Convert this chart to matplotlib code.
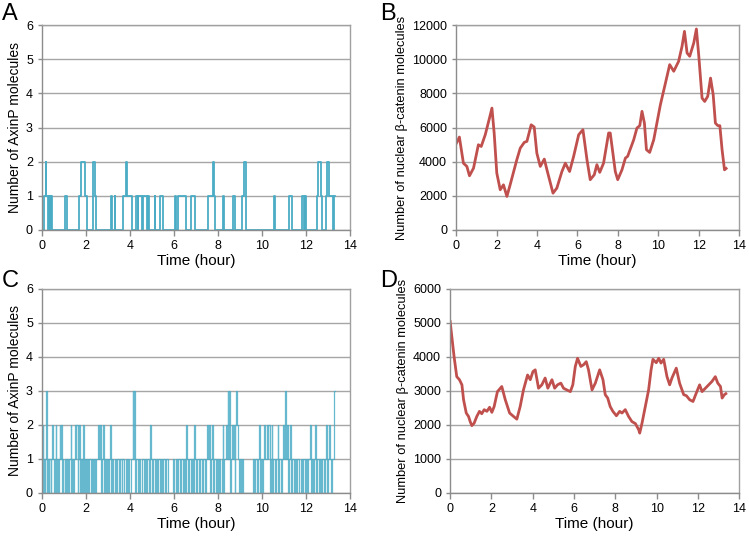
import numpy as np
import matplotlib
matplotlib.use("Agg")
import matplotlib.pyplot as plt

plt.rcParams['font.family'] = ['Liberation Sans', 'DejaVu Sans']

# ---- panel A: AxinP counts (step data, time in hours / level after switch)
a_t = [0.00, 0.10, 0.17, 0.20, 0.27, 0.30, 0.33, 0.36, 0.40, 0.43, 0.48,
       1.05, 1.12, 1.68, 1.76, 1.95, 2.06, 2.30, 2.40, 2.48,
       3.14, 3.18, 3.30, 3.34, 3.70, 3.84, 3.88, 4.08,
       4.27, 4.35, 4.38, 4.55, 4.60, 4.76, 4.83, 4.87, 5.12, 5.16, 5.36, 5.50,
       6.05, 6.09, 6.20, 6.57, 6.80, 6.97,
       7.56, 7.78, 7.82, 7.86, 8.24, 8.30, 8.70, 8.80, 9.10, 9.20, 9.28,
       10.55, 10.59, 11.24, 11.35, 11.83, 11.92, 11.96, 12.03,
       12.50, 12.56, 12.67, 12.72, 12.90, 12.98, 13.04, 13.24, 13.28, 13.32]
a_n = [0, 1, 2, 1, 0, 1, 0, 1, 0, 1, 0,
       1, 0, 1, 2, 1, 0, 2, 1, 0,
       1, 0, 1, 0, 1, 2, 1, 0,
       1, 0, 1, 0, 1, 0, 1, 0, 1, 0, 1, 0,
       1, 0, 1, 0, 1, 0,
       1, 2, 1, 0, 1, 0, 1, 0, 1, 2, 0,
       1, 0, 1, 0, 1, 0, 1, 0,
       1, 2, 1, 0, 1, 2, 1, 0, 1, 1]

# ---- panel C: AxinP counts (denser)
c_t = [0.00, 0.03, 0.06, 0.08, 0.12, 0.15, 0.19, 0.22, 0.25, 0.28, 0.31, 0.34, 0.40, 0.43,
       0.47, 0.52, 0.55, 0.58, 0.62, 0.65, 0.69, 0.73, 0.77, 0.80, 0.83, 0.86, 0.90, 0.94,
       0.98, 1.05, 1.08, 1.14, 1.20, 1.24, 1.30, 1.33, 1.37, 1.42, 1.45, 1.50, 1.53, 1.57,
       1.62, 1.66, 1.70, 1.75, 1.79, 1.83, 1.87, 1.90, 1.95, 2.00, 2.06, 2.10, 2.15, 2.22,
       2.27, 2.31, 2.36, 2.42, 2.47, 2.55, 2.60, 2.65, 2.70, 2.73, 2.78, 2.82, 2.86, 2.92,
       2.96, 3.02, 3.05, 3.10, 3.13, 3.18, 3.23, 3.30, 3.37, 3.42, 3.50, 3.55, 3.62, 3.66,
       3.75, 3.80, 3.86, 3.92, 3.97, 4.05, 4.12, 4.16, 4.20, 4.24, 4.28, 4.35, 4.42, 4.48,
       4.55, 4.62, 4.67, 4.73, 4.78, 4.85, 4.90, 4.95, 5.00, 5.05, 5.12, 5.18, 5.24, 5.30,
       5.36, 5.40, 5.47, 5.52, 5.58, 5.65, 5.72, 5.95, 6.00, 6.08, 6.15, 6.20, 6.28, 6.33,
       6.40, 6.45, 6.52, 6.57, 6.60, 6.65, 6.70, 6.78, 6.82, 6.88, 6.93, 6.97, 7.02, 7.07,
       7.14, 7.20, 7.28, 7.33, 7.40, 7.45, 7.52, 7.56, 7.62, 7.66, 7.70, 7.75, 7.78, 7.83,
       7.90, 7.95, 8.02, 8.06, 8.12, 8.17, 8.22, 8.25, 8.30, 8.36, 8.40, 8.45, 8.48, 8.52,
       8.55, 8.58, 8.63, 8.67, 8.72, 8.76, 8.80, 8.84, 8.88, 8.92, 8.96, 9.00, 9.05, 9.10,
       9.16, 9.60, 9.66, 9.70, 9.78, 9.82, 9.88, 9.91, 9.95, 10.02, 10.06, 10.12, 10.16, 10.22,
       10.26, 10.30, 10.35, 10.40, 10.45, 10.48, 10.52, 10.60, 10.65, 10.72, 10.75, 10.80, 10.86, 10.90,
       10.96, 11.00, 11.05, 11.10, 11.15, 11.20, 11.25, 11.30, 11.34, 11.38, 11.45, 11.50, 11.57, 11.62,
       11.70, 11.76, 11.82, 11.88, 11.95, 12.00, 12.06, 12.12, 12.18, 12.22, 12.26, 12.32, 12.37, 12.44,
       12.48, 12.52, 12.58, 12.64, 12.70, 12.75, 12.82, 12.86, 12.92, 12.96, 13.00, 13.05, 13.10, 13.15,
       13.20, 13.28, 13.32]
c_n = [1, 2, 0, 1, 0, 1, 3, 1, 0, 1, 0, 1, 0, 1,
       2, 1, 0, 1, 2, 0, 1, 0, 1, 2, 1, 2, 0, 1,
       0, 1, 0, 1, 0, 1, 2, 0, 1, 0, 1, 2, 1, 2,
       0, 1, 2, 0, 1, 0, 2, 0, 1, 0, 1, 0, 1, 0,
       1, 0, 1, 0, 1, 2, 1, 2, 0, 1, 2, 0, 1, 0,
       1, 0, 1, 2, 0, 1, 0, 1, 0, 1, 0, 1, 0, 1,
       0, 1, 0, 1, 0, 1, 3, 1, 3, 0, 1, 0, 1, 0,
       1, 0, 1, 0, 1, 0, 2, 1, 0, 1, 0, 1, 0, 1,
       0, 1, 0, 1, 0, 1, 0, 1, 0, 1, 0, 1, 0, 1,
       0, 1, 0, 2, 1, 0, 1, 0, 1, 0, 2, 1, 0, 1,
       0, 1, 0, 1, 0, 1, 2, 1, 2, 0, 1, 2, 0, 1,
       0, 1, 0, 1, 0, 1, 2, 0, 1, 2, 1, 3, 1, 3,
       0, 1, 2, 1, 2, 0, 2, 3, 2, 1, 0, 1, 0, 1,
       0, 1, 0, 1, 0, 1, 2, 0, 1, 0, 1, 2, 1, 2,
       1, 2, 0, 1, 2, 0, 1, 0, 1, 2, 0, 1, 0, 1,
       2, 1, 3, 1, 2, 0, 1, 2, 0, 1, 0, 1, 0, 1,
       0, 1, 0, 1, 0, 1, 0, 1, 2, 0, 1, 0, 1, 2,
       0, 1, 0, 1, 0, 1, 0, 1, 2, 0, 1, 2, 1, 0,
       1, 3, 3]

# ---- panel B: nuclear beta-catenin
b_t = [0.00, 0.16, 0.36, 0.53, 0.66, 0.86, 1.10, 1.24, 1.44, 1.65, 1.77, 1.88, 2.01, 2.18,
       2.34, 2.51, 2.67, 3.00, 3.17, 3.37, 3.50, 3.71, 3.86, 3.99, 4.16, 4.36, 4.49, 4.79,
       4.98, 5.23, 5.40, 5.61, 5.81, 6.06, 6.27, 6.47, 6.63, 6.83, 6.96, 7.10, 7.29, 7.54,
       7.62, 7.87, 7.99, 8.20, 8.37, 8.48, 8.78, 8.94, 9.08, 9.19, 9.31, 9.41, 9.57, 9.77,
       10.10, 10.35, 10.56, 10.76, 11.00, 11.17, 11.29, 11.42, 11.55, 11.75, 11.88, 12.00, 12.16, 12.29,
       12.44, 12.58, 12.71, 12.82, 12.94, 13.04, 13.15, 13.27, 13.35]
b_v = [5050, 5440, 3910, 3720, 3170, 3620, 4990, 4890, 5580, 6560, 7140, 5680, 3330, 2350,
       2640, 1960, 2640, 4110, 4790, 5130, 5190, 6160, 6030, 4500, 3720, 4150, 3520, 2150,
       2450, 3420, 3910, 3420, 4310, 5580, 5870, 4110, 2940, 3230, 3820, 3370, 3910, 5680,
       5680, 3420, 2940, 3520, 4210, 4310, 5280, 5970, 6110, 6950, 6260, 4700, 4540, 5280,
       7340, 8610, 9690, 9300, 9880, 10760, 11640, 10370, 10180, 10960, 11780, 10180, 7730, 7530,
       7830, 8900, 7930, 6260, 6110, 6110, 4700, 3520, 3600]

# ---- panel D: nuclear beta-catenin
d_t = [0.00, 0.08, 0.19, 0.32, 0.45, 0.57, 0.65, 0.78, 0.89, 0.97, 1.05, 1.16, 1.29, 1.42,
       1.53, 1.65, 1.78, 1.91, 2.02, 2.13, 2.29, 2.50, 2.67, 2.88, 3.07, 3.23, 3.39, 3.55,
       3.75, 3.88, 4.01, 4.12, 4.28, 4.44, 4.60, 4.73, 4.93, 5.06, 5.20, 5.36, 5.49, 5.65,
       5.82, 5.94, 6.06, 6.17, 6.33, 6.46, 6.59, 6.70, 6.87, 7.03, 7.24, 7.40, 7.51, 7.63,
       7.75, 7.88, 8.05, 8.21, 8.32, 8.48, 8.64, 8.80, 8.97, 9.13, 9.18, 9.29, 9.45, 9.61,
       9.73, 9.82, 9.98, 10.10, 10.21, 10.34, 10.50, 10.63, 10.74, 10.95, 11.11, 11.31, 11.44, 11.60,
       11.76, 11.92, 12.08, 12.20, 12.36, 12.52, 12.68, 12.84, 12.96, 13.09, 13.17, 13.28, 13.35]
d_v = [5040, 4600, 4010, 3420, 3330, 3180, 2740, 2350, 2250, 2100, 1980, 2050, 2250, 2400,
       2330, 2450, 2400, 2520, 2370, 2540, 2980, 3130, 2740, 2350, 2250, 2170, 2540, 3030,
       3470, 3330, 3570, 3620, 3080, 3180, 3380, 3080, 3330, 3080, 3180, 3230, 3080, 3030,
       2980, 3180, 3720, 3960, 3720, 3770, 3860, 3620, 3030, 3230, 3620, 3330, 2890, 2790,
       2540, 2400, 2270, 2400, 2350, 2450, 2250, 2100, 2040, 1860, 1760, 2050, 2540, 3030,
       3620, 3930, 3830, 3960, 3820, 3930, 3420, 3180, 3380, 3670, 3230, 2890, 2860, 2740,
       2690, 2940, 3180, 2980, 3080, 3180, 3280, 3420, 3230, 3130, 2790, 2890, 2920]

blue = '#4bacc6'
red = '#c0504d'
grid_c = '#a6a6a6'

fig = plt.figure(figsize=(7.49, 5.37), dpi=100)

def style_axes(ax, ymax, ystep, ylabel, yfs=10):
    ax.set_xlim(0, 14)
    ax.set_ylim(0, ymax)
    ax.set_xticks(np.arange(0, 15, 2))
    ax.set_yticks(np.arange(0, ymax + 1, ystep))
    ax.yaxis.grid(True, color=grid_c, lw=1)
    ax.set_axisbelow(True)
    for s in ax.spines.values():
        s.set_color('#a0a0a0')
        s.set_linewidth(1)
    ax.spines['left'].set_color('#8c8c8c')
    ax.spines['bottom'].set_color('#8c8c8c')
    ax.tick_params(axis='both', labelsize=9, colors='#8c8c8c', labelcolor='black',
                   length=4, width=1, direction='out')
    ax.tick_params(axis='y', length=3)
    ax.set_xlabel('Time (hour)', fontsize=11, labelpad=1)
    ax.set_ylabel(ylabel, fontsize=yfs, labelpad=3)

axA = fig.add_axes([0.056, 0.572, 0.411, 0.381])
axA.step(a_t, a_n, where='post', color=blue, lw=1.3)
style_axes(axA, 6, 1, 'Number of AxinP molecules')

axB = fig.add_axes([0.609, 0.572, 0.378, 0.381])
axB.plot(b_t, b_v, color=red, lw=2)
style_axes(axB, 12000, 2000, 'Number of nuclear β-catenin molecules', yfs=9.3)

axC = fig.add_axes([0.056, 0.082, 0.411, 0.380])
axC.step(c_t, c_n, where='post', color=blue, lw=0.9, alpha=0.85)
style_axes(axC, 6, 1, 'Number of AxinP molecules')

axD = fig.add_axes([0.601, 0.082, 0.386, 0.380])
axD.plot(d_t, d_v, color=red, lw=2)
style_axes(axD, 6000, 1000, 'Number of nuclear β-catenin molecules', yfs=9.3)

for lbl, x, y in [('A', 0.003, 0.995), ('B', 0.508, 0.995), ('C', 0.003, 0.497), ('D', 0.508, 0.497)]:
    fig.text(x, y, lbl, fontsize=17, va='top', ha='left')

fig.savefig('out.png', dpi=100)
